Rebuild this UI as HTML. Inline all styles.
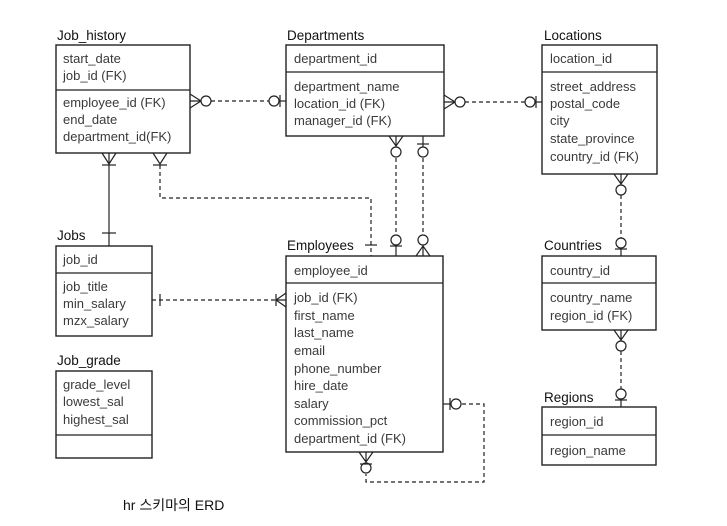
<!DOCTYPE html>
<html><head><meta charset="utf-8"><style>
html,body{margin:0;padding:0;background:#fff;}
svg{display:block}
text{font-family:"Liberation Sans","Noto Sans CJK KR",sans-serif;}
.a{font-size:13px;fill:#3a3a3a;}
.t{font-size:13.5px;fill:#111;}
.b{fill:#fff;stroke:#222;stroke-width:1.4}
.l{stroke:#222;stroke-width:1.2;fill:none}
.d{stroke:#222;stroke-width:1.2;fill:none;stroke-dasharray:4,3}
.c{stroke:#222;stroke-width:1.2;fill:#fff}
</style></head><body>
<svg width="727" height="526" viewBox="0 0 727 526">
<!-- connectors -->
<!-- JH - Dept -->
<line class="d" x1="211" y1="101" x2="269" y2="101"/>
<path class="l" d="M190 94 L201 101 L190 108 M190 101 L201 101"/>
<circle class="c" cx="206" cy="101" r="5"/>
<circle class="c" cx="274" cy="101" r="5"/>
<line class="l" x1="280" y1="95" x2="280" y2="107"/><line class="l" x1="279" y1="101" x2="286" y2="101"/>
<!-- Dept - Loc -->
<line class="d" x1="465" y1="102" x2="525" y2="102"/>
<path class="l" d="M444 95 L455 102 L444 109 M444 102 L455 102"/>
<circle class="c" cx="460" cy="102" r="5"/>
<circle class="c" cx="530" cy="102" r="5"/>
<line class="l" x1="536" y1="96" x2="536" y2="108"/><line class="l" x1="535" y1="102" x2="542" y2="102"/>
<!-- Dept - Emp verticals -->
<line class="d" x1="396" y1="158" x2="396" y2="234"/>
<path class="l" d="M389 136 L396 146 L403 136 M396 136 L396 147"/>
<circle class="c" cx="396" cy="152" r="5"/>
<circle class="c" cx="396" cy="240" r="5"/>
<line class="l" x1="396" y1="245" x2="396" y2="256"/><line class="l" x1="390" y1="246" x2="402" y2="246"/>
<line class="d" x1="423" y1="158" x2="423" y2="234"/>
<line class="l" x1="423" y1="136" x2="423" y2="147"/><line class="l" x1="417" y1="144" x2="429" y2="144"/>
<circle class="c" cx="423" cy="152" r="5"/>
<circle class="c" cx="423" cy="240" r="5"/>
<path class="l" d="M416 256 L423 246 L430 256 M423 245 L423 256"/>
<!-- JH - Jobs solid -->
<line class="l" x1="109" y1="153" x2="109" y2="246"/>
<path class="l" d="M102 153 L109 164 L116 153"/><line class="l" x1="102" y1="165" x2="116" y2="165"/>
<line class="l" x1="102" y1="233" x2="116" y2="233"/>
<!-- JH - Emp dashed -->
<path class="d" d="M160 165 L160 198 L371 198 L371 256"/>
<path class="l" d="M153 153 L160 164 L167 153"/><line class="l" x1="153" y1="165" x2="167" y2="165"/>
<line class="l" x1="365" y1="245" x2="377" y2="245"/>
<!-- Jobs - Emp -->
<line class="d" x1="152" y1="300" x2="278" y2="300"/>
<line class="l" x1="160" y1="294" x2="160" y2="306"/>
<path class="l" d="M286 293 L276 300 L286 307 M276 300 L286 300"/>
<line class="l" x1="276" y1="294" x2="276" y2="306"/>
<!-- Loc - Countries -->
<line class="d" x1="621" y1="195" x2="621" y2="238"/>
<path class="l" d="M614 174 L621 184 L628 174 M621 174 L621 185"/>
<circle class="c" cx="621" cy="190" r="5"/>
<circle class="c" cx="621" cy="243" r="5"/>
<line class="l" x1="621" y1="248" x2="621" y2="256"/><line class="l" x1="615" y1="249" x2="627" y2="249"/>
<!-- Countries - Regions -->
<line class="d" x1="621" y1="351" x2="621" y2="389"/>
<path class="l" d="M614 330 L621 340 L628 330 M621 330 L621 341"/>
<circle class="c" cx="621" cy="346" r="5"/>
<circle class="c" cx="621" cy="394" r="5"/>
<line class="l" x1="621" y1="399" x2="621" y2="407"/><line class="l" x1="615" y1="400" x2="627" y2="400"/>
<!-- Emp self -->
<path class="d" d="M462 404 L484 404 L484 482 L366 482 L366 474"/>
<line class="l" x1="443" y1="404" x2="451" y2="404"/><line class="l" x1="450" y1="398" x2="450" y2="410"/>
<circle class="c" cx="456" cy="404" r="5"/>
<path class="l" d="M359 452 L366 462 L373 452 M366 452 L366 463"/>
<circle class="c" cx="366" cy="468" r="5"/>
<line class="l" x1="360" y1="464" x2="372" y2="464"/>

<!-- Job_history -->
<text class="t" x="57" y="40">Job_history</text>
<rect class="b" x="56" y="45" width="134" height="108"/><line class="l" x1="56" y1="90" x2="190" y2="90"/>
<text class="a" x="63" y="63">start_date</text><text class="a" x="63" y="80">job_id (FK)</text>
<text class="a" x="63" y="107">employee_id (FK)</text><text class="a" x="63" y="124">end_date</text><text class="a" x="63" y="141">department_id(FK)</text>
<!-- Departments -->
<text class="t" x="287" y="40">Departments</text>
<rect class="b" x="286" y="45" width="158" height="91"/><line class="l" x1="286" y1="72" x2="444" y2="72"/>
<text class="a" x="294" y="63">department_id</text>
<text class="a" x="294" y="91">department_name</text><text class="a" x="294" y="108">location_id (FK)</text><text class="a" x="294" y="125">manager_id (FK)</text>
<!-- Locations -->
<text class="t" x="544" y="40">Locations</text>
<rect class="b" x="542" y="45" width="115" height="129"/><line class="l" x1="542" y1="72" x2="657" y2="72"/>
<text class="a" x="550" y="63">location_id</text>
<text class="a" x="550" y="91">street_address</text><text class="a" x="550" y="108">postal_code</text><text class="a" x="550" y="125">city</text><text class="a" x="550" y="143">state_province</text><text class="a" x="550" y="161">country_id (FK)</text>
<!-- Jobs -->
<text class="t" x="57" y="240">Jobs</text>
<rect class="b" x="56" y="246" width="96" height="90"/><line class="l" x1="56" y1="273" x2="152" y2="273"/>
<text class="a" x="63" y="264">job_id</text>
<text class="a" x="63" y="291">job_title</text><text class="a" x="63" y="308">min_salary</text><text class="a" x="63" y="325">mzx_salary</text>
<!-- Job_grade -->
<text class="t" x="57" y="365">Job_grade</text>
<rect class="b" x="56" y="371" width="96" height="87"/><line class="l" x1="56" y1="435" x2="152" y2="435"/>
<text class="a" x="63" y="389">grade_level</text><text class="a" x="63" y="406">lowest_sal</text><text class="a" x="63" y="424">highest_sal</text>
<!-- Employees -->
<text class="t" x="287" y="250">Employees</text>
<rect class="b" x="286" y="256" width="157" height="196"/><line class="l" x1="286" y1="283" x2="443" y2="283"/>
<text class="a" x="294" y="275">employee_id</text>
<text class="a" x="294" y="302">job_id (FK)</text><text class="a" x="294" y="320">first_name</text><text class="a" x="294" y="337">last_name</text><text class="a" x="294" y="355">email</text><text class="a" x="294" y="373">phone_number</text><text class="a" x="294" y="390">hire_date</text><text class="a" x="294" y="408">salary</text><text class="a" x="294" y="425">commission_pct</text><text class="a" x="294" y="443">department_id (FK)</text>
<!-- Countries -->
<text class="t" x="544" y="250">Countries</text>
<rect class="b" x="542" y="256" width="114" height="74"/><line class="l" x1="542" y1="283" x2="656" y2="283"/>
<text class="a" x="550" y="275">country_id</text>
<text class="a" x="550" y="302">country_name</text><text class="a" x="550" y="320">region_id (FK)</text>
<!-- Regions -->
<text class="t" x="544" y="402">Regions</text>
<rect class="b" x="542" y="407" width="114" height="58"/><line class="l" x1="542" y1="435" x2="656" y2="435"/>
<text class="a" x="550" y="426">region_id</text>
<text class="a" x="550" y="455">region_name</text>
<!-- caption -->
<text x="123" y="510" style="font-size:14px;fill:#111">hr 스키마의 ERD</text>
</svg>
</body></html>
